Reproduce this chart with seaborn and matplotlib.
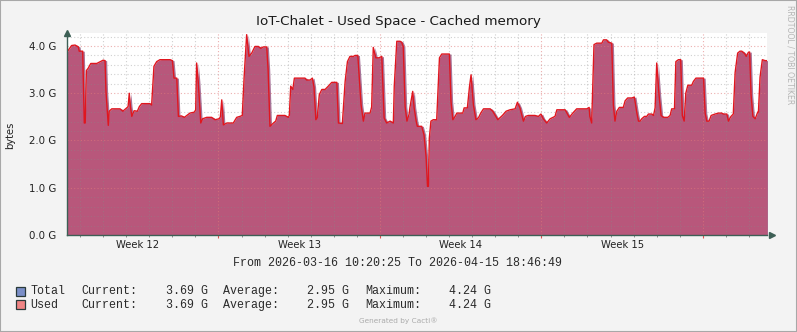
import numpy as np
import pandas as pd
import matplotlib
matplotlib.use("Agg")
import matplotlib.pyplot as plt
from matplotlib.patches import Rectangle
import seaborn as sns

# ---------------- data ----------------
title = "IoT-Chalet - Used Space - Cached memory"
week_labels = ["Week 12", "Week 13", "Week 14", "Week 15"]
range_text = "From 2026-03-16 10:20:25 To 2026-04-15 18:46:49"
series_names = ["Total", "Used"]
series_colors = ["#7b8fc8", "#f08585"]
stats_current = ["3.69 G", "3.69 G"]
stats_average = ["2.95 G", "2.95 G"]
stats_maximum = ["4.24 G", "4.24 G"]
y_ticks = [0.0, 1.0, 2.0, 3.0, 4.0]

# time in days since 2026-03-16 10:20:25, values in GB
t_day = [0.00, 0.20, 0.35, 0.49, 0.53, 0.68, 0.75, 0.79, 0.84, 0.92,
         1.03, 1.29, 1.57, 1.65, 1.69, 1.79, 1.83, 1.94, 2.30, 2.42,
         2.59, 2.65, 2.70, 2.75, 2.81, 2.91, 3.05, 3.14, 3.24, 3.60,
         3.67, 3.77, 3.89, 4.03, 4.47, 4.57, 4.64, 4.76, 4.83, 4.96,
         5.09, 5.33, 5.52, 5.58, 5.62, 5.69, 5.80, 5.88, 6.06, 6.27,
         6.42, 6.60, 6.65, 6.71, 6.78, 6.93, 7.21, 7.36, 7.50, 7.60,
         7.68, 7.79, 7.89, 8.01, 8.15, 8.30, 8.40, 8.51, 8.66, 8.72,
         8.80, 8.95, 9.05, 9.12, 9.45, 9.60, 9.64, 9.70, 9.79, 9.86,
         10.32, 10.39, 10.54, 10.64, 10.71, 10.79, 10.85, 10.94, 11.05, 11.19,
         11.33, 11.48, 11.70, 11.77, 11.94, 12.06, 12.16, 12.27, 12.42, 12.49,
         12.61, 12.75, 12.85, 12.92, 13.14, 13.21, 13.28, 13.39, 13.53, 13.65,
         13.75, 13.86, 14.01, 14.15, 14.19, 14.30, 14.44, 14.51, 14.58, 14.66,
         14.74, 14.83, 14.87, 14.99, 15.05, 15.14, 15.19, 15.38, 15.48, 15.57,
         15.63, 15.67, 15.71, 15.78, 15.88, 16.03, 16.15, 16.25, 16.58, 16.65,
         16.73, 16.83, 16.90, 17.16, 17.22, 17.36, 17.45, 17.52, 17.62, 17.73,
         17.84, 17.94, 18.06, 18.35, 18.46, 18.68, 18.88, 19.04, 19.21, 19.43,
         19.53, 19.64, 19.79, 19.88, 20.00, 20.29, 20.44, 20.55, 20.65, 20.80,
         20.95, 21.16, 21.24, 21.60, 21.78, 21.93, 22.10, 22.54, 22.64, 22.67,
         22.75, 22.85, 22.97, 23.19, 23.26, 23.40, 23.47, 23.62, 23.69, 23.76,
         23.84, 23.95, 24.12, 24.20, 24.31, 24.49, 24.60, 24.71, 24.78, 24.85,
         24.92, 25.04, 25.14, 25.21, 25.36, 25.43, 25.50, 25.57, 25.67, 25.76,
         25.86, 26.05, 26.15, 26.22, 26.34, 26.40, 26.51, 26.61, 26.68, 26.76,
         26.83, 26.92, 27.09, 27.16, 27.27, 27.60, 27.67, 27.74, 27.84, 27.93,
         28.10, 28.25, 28.39, 28.46, 28.61, 28.68, 28.79, 28.89, 28.97, 29.08,
         29.18, 29.26, 29.38, 29.45, 29.55, 29.60, 29.66, 29.74, 29.84, 29.95,
         29.98, 30.05, 30.15, 30.27, 30.35]
used_gb = [3.87, 4.01, 4.02, 3.98, 3.89, 3.89, 2.37, 2.37, 3.48, 3.53,
           3.63, 3.63, 3.70, 3.69, 3.04, 2.32, 2.62, 2.67, 2.67, 2.62,
           2.69, 2.72, 3.00, 2.72, 2.51, 2.63, 2.62, 2.72, 2.78, 2.78,
           2.75, 3.57, 3.67, 3.71, 3.71, 3.69, 3.32, 3.32, 2.51, 2.52,
           2.49, 2.58, 2.60, 2.65, 3.64, 3.25, 2.37, 2.46, 2.49, 2.49,
           2.44, 2.46, 2.50, 2.86, 2.33, 2.37, 2.37, 2.49, 2.51, 2.53,
           3.34, 4.24, 3.78, 3.85, 3.99, 3.99, 3.95, 3.98, 3.98, 3.50,
           2.30, 2.37, 2.41, 2.53, 2.53, 2.49, 2.53, 3.15, 3.08, 3.32,
           3.32, 3.28, 3.28, 3.32, 3.13, 2.44, 2.48, 2.97, 3.08, 3.08,
           3.15, 3.23, 3.23, 2.37, 2.36, 3.25, 3.67, 3.78, 3.78, 3.80,
           3.80, 2.76, 2.41, 2.58, 2.58, 2.71, 3.97, 3.75, 3.75, 3.78,
           2.48, 2.37, 2.41, 2.37, 3.15, 4.10, 4.10, 4.08, 3.99, 2.72,
           2.41, 2.55, 2.70, 3.04, 2.70, 2.41, 2.30, 2.30, 2.12, 1.66,
           1.03, 1.03, 2.05, 2.41, 2.44, 2.44, 3.75, 3.83, 3.83, 2.83,
           2.44, 2.51, 2.58, 2.58, 2.69, 2.69, 3.13, 3.39, 2.76, 2.44,
           2.48, 2.58, 2.67, 2.67, 2.62, 2.44, 2.53, 2.62, 2.65, 2.67,
           2.81, 2.69, 2.41, 2.51, 2.53, 2.53, 2.51, 2.56, 2.46, 2.37,
           2.46, 2.51, 2.65, 2.65, 2.49, 2.58, 2.67, 2.67, 2.70, 2.51,
           2.37, 4.03, 4.06, 4.06, 4.13, 4.13, 4.08, 4.06, 2.76, 2.41,
           2.62, 2.70, 2.70, 2.84, 2.90, 2.90, 2.92, 2.58, 2.41, 2.41,
           2.46, 2.51, 2.51, 2.56, 2.56, 2.53, 2.69, 3.64, 2.97, 2.53,
           2.49, 2.49, 2.53, 2.67, 2.67, 3.67, 3.71, 3.71, 2.53, 2.41,
           3.00, 3.17, 3.17, 3.25, 3.32, 3.32, 2.58, 2.41, 2.41, 2.53,
           2.56, 2.58, 2.58, 2.56, 2.56, 2.41, 2.51, 2.56, 3.44, 3.85,
           3.89, 3.89, 3.84, 3.78, 3.87, 3.87, 2.97, 2.51, 2.46, 2.60,
           2.60, 3.34, 3.71, 3.69, 3.69]
total_gb = list(used_gb)  # Total and Used are identical in this chart

span_days = 30.3517      # 2026-03-16 10:20:25 -> 2026-04-15 18:46:49
first_midnight = 0.5684  # 2026-03-17 00:00 relative to start
y_max = 4.275

# ---------------- figure ----------------
sns.set_style("white")
plt.rcParams["font.family"] = ["DejaVu Sans"]

W, H = 797, 332
fig = plt.figure(figsize=(W / 100, H / 100), dpi=100, facecolor="#f3f3f3")
ax = fig.add_axes([67 / W, (H - 235) / H, 700 / W, 202 / H])
ax.set_facecolor("white")

df = pd.DataFrame({"day": t_day, "Total": total_gb, "Used": used_gb})

# soft shadow of the Total area, then Used area, then line
ax.fill_between(df["day"] + 0.07, 0, df["Total"], color="#8c4576", lw=0, zorder=1, alpha=0.75)
ax.fill_between(df["day"], 0, df["Used"], color="#b8577b", lw=0, zorder=2)
sns.lineplot(data=df, x="day", y="Used", ax=ax, color="#e0161f", lw=1.0,
             estimator=None, sort=False, zorder=5)

ax.set_xlim(0, span_days)
ax.set_ylim(0, y_max)

# grid (drawn above the area, like rrdtool)
dots = (0, (1, 2))
for k in range(1, 22):
    v = k * 0.2
    if k % 5 == 0:
        ax.axhline(v, color="#e07a7a", alpha=0.6, lw=0.8, ls=dots, zorder=3)
    else:
        ax.axhline(v, color="#8a8a8a", alpha=0.4, lw=0.8, ls=dots, zorder=3)
day_lines = [first_midnight + k for k in range(31) if first_midnight + k < span_days]
week_lines = [first_midnight + 6 + 7 * k for k in range(4)]
for d in day_lines:
    if any(abs(d - w) < 1e-6 for w in week_lines):
        ax.axvline(d, color="#e07a7a", alpha=0.6, lw=0.8, ls=dots, zorder=3)
        ax.vlines(d, -0.07, 0, color="#e05050", lw=0.8, clip_on=False, zorder=6)
    else:
        ax.axvline(d, color="#8a8a8a", alpha=0.4, lw=0.8, ls=dots, zorder=3)
        ax.vlines(d, -0.045, 0, color="#888888", lw=0.7, clip_on=False, zorder=6)

# ticks
week_centers = [first_midnight + 2.5 + 7 * k for k in range(4)]
ax.set_xticks(week_centers, week_labels)
ax.set_yticks(y_ticks, [f"{v:.1f} G" for v in y_ticks])
ax.tick_params(axis="x", length=0, pad=3.5, labelsize=7.2, labelcolor="#222222")
ax.tick_params(axis="y", length=3, width=0.7, color="#666666", pad=4.5,
               labelsize=7.4, labelcolor="#222222")
ax.set_xlabel("")
ax.set_ylabel("")

axis_col = "#3d5f55"
for s in ["top", "right"]:
    ax.spines[s].set_visible(False)
for s in ["left", "bottom"]:
    ax.spines[s].set_color(axis_col)
    ax.spines[s].set_linewidth(1.0)
    ax.spines[s].set_zorder(7)
ax.plot([0], [1.0], marker="^", ms=4.5, color=axis_col, transform=ax.transAxes,
        clip_on=False, zorder=8)
ax.plot([1.007], [0], marker=">", ms=4.5, color=axis_col, transform=ax.transAxes,
        clip_on=False, zorder=8)

# ---------------- texts ----------------
def fx(px):
    return px / W


def fy(py):
    return 1 - py / H


fig.text(fx(398.5), fy(22), title, ha="center", va="center", fontsize=9.7, color="#1a1a1a")
fig.text(fx(10), fy(135), "bytes", ha="center", va="center", rotation=90, fontsize=7.2,
         color="#222222")
fig.text(fx(790), fy(5), "RRDTOOL / TOBI OETIKER", ha="center", va="top", rotation=270,
         fontsize=5.6, color="#b5b5b5")

mono = "Liberation Mono"
fig.text(fx(397.8), fy(263), range_text, ha="center", va="center", fontsize=8.4,
         family=mono, color="#2a2a2a")

row_y = [291, 304.7]
for i in range(2):
    y = row_y[i]
    fig.patches.append(Rectangle((fx(15.5), fy(y + 4.5)), 9 / W, 9 / H,
                                 transform=fig.transFigure, facecolor=series_colors[i],
                                 edgecolor="#2a3a3a", lw=0.9))
    pieces = [(30.7, series_names[i]), (81, "Current:"), (165.7, stats_current[i]),
              (222.7, "Average:"), (307.3, stats_average[i]), (365, "Maximum:"),
              (449.3, stats_maximum[i])]
    for xp, s in pieces:
        fig.text(fx(xp), fy(y), s, ha="left", va="center", fontsize=8.4, family=mono,
                 color="#2a2a2a")

fig.text(fx(398.5), fy(321), "Generated by Cacti®", ha="center", va="center",
         fontsize=5.3, color="#ababab")

fig.patches.append(Rectangle((0, 0), 1, 1, transform=fig.transFigure, fill=False,
                             edgecolor="#a8a8a8", lw=1.5))

fig.savefig("out.png", dpi=100, facecolor=fig.get_facecolor())
